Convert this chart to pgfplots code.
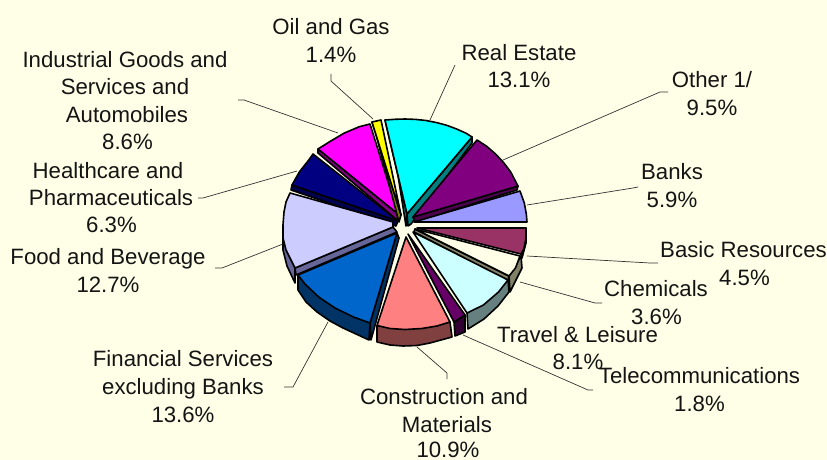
\documentclass[border=0pt]{standalone}
\usepackage{pgfplots}
\pgfplotsset{compat=1.18}
\usepackage{fontspec}
\setmainfont{Liberation Sans}
\definecolor{bg}{HTML}{FFFFE8}
\definecolor{navy}{HTML}{000080}
\definecolor{navyd}{HTML}{000050}
\definecolor{purp}{HTML}{800080}
\definecolor{purpd}{HTML}{4D004D}
\definecolor{magen}{HTML}{FF00FF}
\definecolor{olive}{HTML}{808000}
\definecolor{yell}{HTML}{FFFF00}
\definecolor{teald}{HTML}{008080}
\definecolor{cyan2}{HTML}{00FFFF}
\definecolor{peri}{HTML}{9999FF}
\definecolor{maroond}{HTML}{4D1A33}
\definecolor{maroon2}{HTML}{993366}
\definecolor{chemd}{HTML}{808066}
\definecolor{travd}{HTML}{668080}
\definecolor{trav}{HTML}{CCFFFF}
\definecolor{teld}{HTML}{330033}
\definecolor{tel}{HTML}{660066}
\definecolor{consd}{HTML}{804040}
\definecolor{cons}{HTML}{FF8080}
\definecolor{find}{HTML}{003366}
\definecolor{fin}{HTML}{0066CC}
\definecolor{foodd}{HTML}{666699}
\definecolor{food}{HTML}{CCCCFF}
\newcommand{\lab}[3]{\node[anchor=base,inner sep=0pt,text=black!92] at (axis cs:#1,#2) {#3};}
\tikzset{sl/.style={draw=black,line width=1.6pt,line join=round,fill=#1}}
\tikzset{ld/.style={draw=black!80,line width=0.7pt}}
\begin{document}
\begin{tikzpicture}
\begin{axis}[scale only axis,width=827pt,height=460pt,xmin=0,xmax=827,ymin=0,ymax=460,y dir=reverse,hide axis,clip=true]
\fontsize{22.2}{27}\selectfont
\addplot[fill=bg,draw=none] coordinates {(0,0)(827,0)(827,460)(0,460)} -- cycle;
% leader lines
\addplot[ld] coordinates {(331,74)(331,81)(373,119)};
\addplot[ld] coordinates {(238,100)(244,100)(338,133)};
\addplot[ld] coordinates {(198,198)(203,198)(297,171)};
\addplot[ld] coordinates {(215,268)(222,268)(283,244)};
\addplot[ld] coordinates {(284,387)(293,387)(328,322)};
\addplot[ld] coordinates {(417,347)(447,373)(447,379)};
\addplot[ld] coordinates {(593,390)(588,390)(463,335)};
\addplot[ld] coordinates {(602,303)(595,303)(520,282)};
\addplot[ld] coordinates {(658,263)(650,263)(527,256)};
\addplot[ld] coordinates {(638,187)(633,188)(527,205)};
\addplot[ld] coordinates {(668,92)(660,92)(503,160)};
\addplot[ld] coordinates {(455,65)(430,120)};
% Healthcare
\addplot[sl=navyd] coordinates {(292,185)(291,190)(396,226)(398,221)} -- cycle;
\addplot[sl=navy] coordinates {(313,154)(309,159.7)(299.3,172)(292,185)(398,221)} -- cycle;
% Industrial
\addplot[sl=purp] coordinates {(318,149)(318,153)(397,220)(398,214)} -- cycle;
\addplot[sl=magen] coordinates {(370,124)(359.3,126.7)(344,133.2)(330,141.5)(318,149)(398,214)} -- cycle;
% Oil and gas
\addplot[sl=olive] coordinates {(372,122)(374,127)(399,222)(401,215)} -- cycle;
\addplot[sl=yell] coordinates {(372,122)(381,120)(401,215)} -- cycle;
% Real estate
\addplot[sl=teald] coordinates {(385,120)(390,125)(406,226)(407,214)} -- cycle;
\addplot[sl=teald] coordinates {(472,137)(472,143)(411,224)(408,226)(407,214)} -- cycle;
\addplot[sl=cyan2] coordinates {(385,120)(395,119.3)(405,119)(415.6,119.4)(426,120.5)(436.6,122.6)(447,125.4)(456.6,129)(466,133.2)(472,137)(407,214)} -- cycle;
% Other 1/
\addplot[sl=purpd] coordinates {(518,186)(517,190)(415,222)(413,217)} -- cycle;
\addplot[sl=purp] coordinates {(477,140)(486.6,146.2)(495.7,154.1)(503.7,162.7)(510.7,172)(518,186)(413,217)} -- cycle;
% Banks
\addplot[sl=peri] coordinates {(520,191)(524.3,203)(526.3,213.9)(527,222)(414,222)} -- cycle;
% Basic resources
\addplot[sl=maroond] coordinates {(526,228)(526,243)(522,258)(521,254)} -- cycle;
\addplot[sl=maroon2] coordinates {(526,228)(526,238)(523.9,248.8)(521,254)(417,228)} -- cycle;
% Chemicals
\addplot[sl=chemd] coordinates {(521,256)(522,268)(510,292)(509,276)} -- cycle;
\addplot[sl=chemd] coordinates {(509,276)(508,281)(414,232)(415,229)} -- cycle;
\addplot[sl=bg] coordinates {(520,256)(515.5,268)(509,276)(415,229)} -- cycle;
% Travel
\addplot[sl=travd] coordinates {(508,280)(509,292)(498,306)(484,319)(468,329)(467,313)} -- cycle;
\addplot[sl=trav] coordinates {(508,280)(498.5,292)(483.4,305)(467,313)(413,232)} -- cycle;
% Telecom
\addplot[sl=teld] coordinates {(454,322)(455,336)(465,332)(465,315)} -- cycle;
\addplot[sl=tel] coordinates {(465,315)(454,322)(408,234)} -- cycle;
% Construction
\addplot[sl=consd] coordinates {(377,326)(377,342)(390,345)(403,346)(417,345.5)(430,343)(452,337)(450,322)} -- cycle;
\addplot[sl=cons] coordinates {(450,322)(437,326)(422,328.5)(405,329.5)(390,328.5)(377,325.5)(406,237)} -- cycle;
% Financial
\addplot[sl=find] coordinates {(298,275)(298,290)(306,302)(317,312)(330,321)(343,328)(369,340)(370,323)} -- cycle;
\addplot[sl=find] coordinates {(370,323)(371,340)(399,238)(397,233)} -- cycle;
\addplot[sl=fin] coordinates {(370,323)(353.4,317)(335,308)(318.7,297)(305,284)(298,275)(397,233)} -- cycle;
% Food
\addplot[sl=foodd] coordinates {(283,235)(283,250)(287,266)(295,283)(295,268)} -- cycle;
\addplot[sl=foodd] coordinates {(295,268)(296,275)(397,232)(393,227)} -- cycle;
\addplot[sl=food] coordinates {(295,268)(290,258)(286,250)(283,238)(283,225)(284,212)(286,202)(290,193)(393,222)(393,227)} -- cycle;
% labels
\lab{331}{35}{Oil and Gas}\lab{331}{63}{1.4\%}
\lab{125}{67}{Industrial Goods and}\lab{125}{94}{Services and}\lab{127}{122}{Automobiles}\lab{127.5}{149}{8.6\%}
\lab{108}{178}{Healthcare and}\lab{111}{205}{Pharmaceuticals}\lab{111.5}{232}{6.3\%}
\lab{108}{264}{Food and Beverage}\lab{108}{292}{12.7\%}
\lab{183}{366}{Financial Services}\lab{183}{394}{excluding Banks}\lab{183}{422}{13.6\%}
\lab{444}{404}{Construction and}\lab{447}{432}{Materials}\lab{448}{457}{10.9\%}
\lab{577.5}{342}{Travel \& Leisure}\lab{578}{369}{8.1\%}
\lab{699.5}{383}{Telecommunications}\lab{699.5}{411}{1.8\%}
\lab{656}{296}{Chemicals}\lab{656.5}{324}{3.6\%}
\lab{743.5}{257}{Basic Resources}\lab{744.5}{285}{4.5\%}
\lab{672}{179}{Banks}\lab{672}{207}{5.9\%}
\lab{712}{87}{Other 1/}\lab{712}{115}{9.5\%}
\lab{519}{60}{Real Estate}\lab{519}{88}{13.1\%}
\end{axis}
\end{tikzpicture}
\end{document}
